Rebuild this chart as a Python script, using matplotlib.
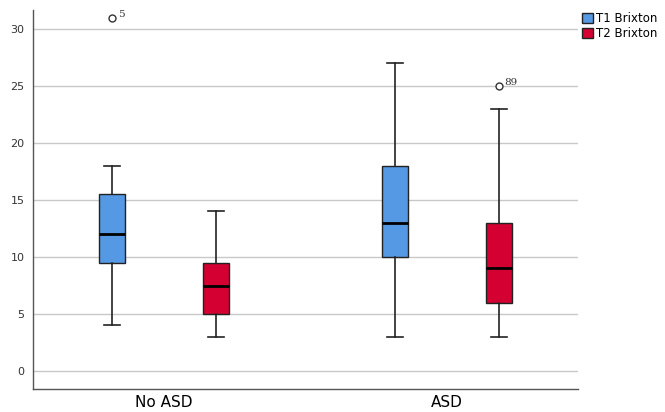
import matplotlib
matplotlib.use("Agg")
import matplotlib.pyplot as plt
from matplotlib.patches import Patch

groups = ["No ASD", "ASD"]
series = ["T1 Brixton", "T2 Brixton"]
colors = ["#5598E3", "#D50032"]

# (whislo, q1, median, q3, whishi, outliers, outlier labels) per group x series
t1_stats = [(4, 9.5, 12, 15.5, 18, [31], ["5"]),
            (3, 10, 13, 18, 27, [], [])]
t2_stats = [(3, 5, 7.5, 9.5, 14, [], []),
            (3, 6, 9, 13, 23, [25], ["89"])]
offsets = [-0.184, 0.184]
box_w = 0.092

fig = plt.figure(figsize=(6.65, 4.12), dpi=100)
ax = fig.add_axes([33 / 665, 23 / 412, 545 / 665, 379 / 412])

for s, (stats, col, off) in enumerate(zip([t1_stats, t2_stats], colors, offsets)):
    bx = []
    for lo, q1, med, q3, hi, fl, _ in stats:
        bx.append(dict(whislo=lo, q1=q1, med=med, q3=q3, whishi=hi, fliers=fl))
    pos = [g + off for g in range(len(groups))]
    ax.bxp(bx, positions=pos, widths=box_w, patch_artist=True, showfliers=True,
           boxprops=dict(facecolor=col, edgecolor="#222222", linewidth=1.0),
           medianprops=dict(color="black", linewidth=2),
           whiskerprops=dict(color="#222222", linewidth=1.2),
           capprops=dict(color="#222222", linewidth=1.2),
           flierprops=dict(marker="o", markerfacecolor="white", markeredgecolor="#333333",
                           markersize=5, markeredgewidth=1.0),
           capwidths=box_w * 0.6, zorder=3)
    for p, st in zip(pos, stats):
        for v, lab in zip(st[5], st[6]):
            ax.text(p + 0.02, v - 0.1, lab, fontsize=7.5, ha="left", va="bottom",
                    color="#333333", family="DejaVu Serif")

ax.set_xlim(-0.463, 1.463)
ax.set_ylim(-1.58, 31.67)
ax.set_yticks([0, 5, 10, 15, 20, 25, 30])
ax.set_xticks(range(len(groups)))
ax.set_xticklabels(groups, fontsize=11)
ax.tick_params(axis="y", length=0, labelsize=8, colors="#333333", pad=6)
ax.tick_params(axis="x", length=0, pad=4)
ax.grid(axis="y", color="#c8c8c8", linewidth=1.0, zorder=0)
ax.set_axisbelow(True)
for sp in ["top", "right"]:
    ax.spines[sp].set_visible(False)
for sp in ["left", "bottom"]:
    ax.spines[sp].set_color("#555555")
    ax.spines[sp].set_linewidth(1.0)

handles = [Patch(facecolor=c, edgecolor="#222222", label=l) for c, l in zip(colors, series)]
fig.legend(handles=handles, loc="upper left", bbox_to_anchor=(574 / 665, 0.99),
           frameon=False, fontsize=8.5, handlelength=0.9, handleheight=0.9,
           handletextpad=0.3, labelspacing=0.15, borderaxespad=0.3)

fig.savefig("out.png", dpi=100)
